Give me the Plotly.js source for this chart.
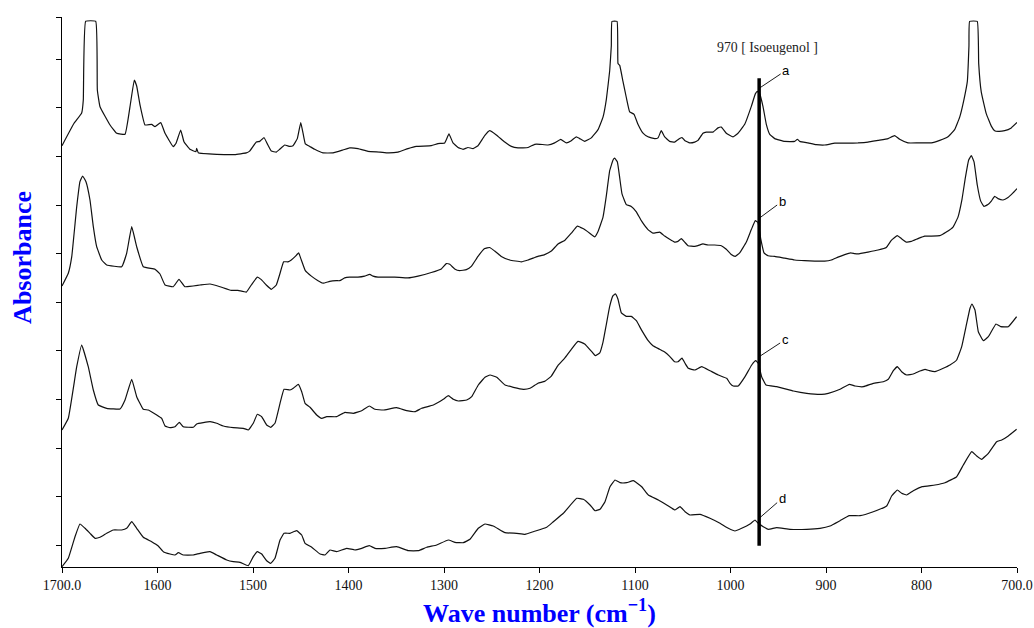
<!DOCTYPE html>
<html>
<head>
<meta charset="utf-8">
<script src="https://cdn.plot.ly/plotly-3.0.1.min.js"></script>
<style>
  html, body { margin: 0; padding: 0; background: #ffffff; }
  #chart { width: 1034px; height: 628px; }
</style>
</head>
<body>
<div id="chart"></div>
<script>
// ---- Data (wave number in cm-1, absorbance in arbitrary stacked units) ----
const wnA = [1700,1687.4,1679.4,1677.7,1675.2,1664.7,1663,1660.2,1649.7,1642.7,1634,1628.8,1624.3,1621.8,1618.3,1613.1,1606.1,1602.6,1596.6,1592.1,1583.5,1580.6,1575.7,1572.3,1566,1559.7,1559,1557.3,1538,1519.2,1507,1503.5,1496.5,1493,1488.5,1485,1480.8,1475.6,1472,1466.8,1461.6,1458.1,1453.6,1450,1447.6,1445.2,1440.6,1435.4,1426.7,1416.2,1405.8,1398.8,1390.1,1379.6,1367,1358.6,1348.2,1337.7,1329,1313.3,1306.3,1299.3,1294.8,1290.6,1285.3,1280.1,1274.9,1269.6,1264.4,1257.4,1252.2,1245.2,1236.4,1229.5,1222.5,1212,1205,1199.5,1191.1,1184.1,1177.8,1171.9,1166.7,1161.5,1157.9,1152.7,1145.8,1138.7,1133.5,1130,1126.5,1124.8,1124.1,1118.8,1117.8,1116,1112.6,1109.1,1105.6,1101,1096.9,1091.6,1086.4,1079.4,1075.9,1072.5,1068.9,1063.7,1058.5,1053.2,1050.8,1048,1042.7,1037.5,1034.1,1028.8,1025.3,1018.3,1013.1,1009.6,1004.4,997.4,992.1,985.1,978.2,974,971.9,969.4,966,962.5,958.9,953.7,943.2,932.8,930,927.5,918.8,910.2,901.4,890.8,876.9,866.5,856,845.5,835,828.1,822.9,814.2,803.7,789.7,780.9,772.3,765.3,760,755.5,752,750.3,749.6,741.6,740.1,737.4,732.2,726.9,723.4,719.9,712.9,706,700];
const absA = [421.3,443.7,454,467,545.7,545.7,477,460.3,442,433.7,432.7,460.3,487,481,462,442,442.7,440.3,444.3,433.7,420.3,423.7,437,425.3,417.7,415.3,418.7,414.3,412.7,412.4,414.1,415.9,424.9,425.6,429.5,423.1,415.9,414.9,417.7,422,420.6,421.3,428.4,444.5,433.8,423.1,420.6,417.7,414.1,414.1,417,419.1,418.4,415.6,414.9,414.1,414.9,418.4,420.6,421.3,423.4,424.1,433.1,424.1,419.5,417.7,419.5,418.4,421.3,431.3,436.3,432,424.9,420.6,419.1,419.5,422.7,422.7,422,424.1,427.7,424.1,426.3,430.2,428.4,425.6,429.1,437.4,449.9,467.7,496.3,521.3,545.6,545.6,503.4,501.6,485.6,469.5,455.2,452.7,442.7,433.8,430.2,428.4,429.1,436.3,430.2,425.6,424.9,428.4,429.5,426.6,424.1,424.9,426.6,433.8,434.9,434.9,439.1,439.9,433.8,430.2,433.8,442.7,460.6,473.1,475.6,473.1,460.6,442.7,432.7,428.4,425.6,425.6,427.7,425.6,424.1,422.4,422,423.8,423.8,424.1,424.9,426.6,428.4,431.3,427.7,424.1,424.1,424.1,426.6,430.2,437.4,449.9,467.7,485.6,521.3,545.6,545.6,503.4,474.9,453.4,440.9,436.3,435.6,436.3,439.1,444.5];

const wnB = [1700,1693.4,1689.8,1684.6,1681.2,1678.4,1674.9,1670.7,1667.2,1663.7,1658.4,1653.2,1637.5,1632.3,1627,1621.8,1614.9,1602.6,1597.4,1592.1,1583.5,1577.5,1571.2,1555.5,1545,1534.6,1522.7,1515.7,1507,1501.8,1495.5,1491.3,1486.1,1480.8,1475.6,1472,1467.9,1463.4,1459.9,1455.7,1452.2,1449.4,1445.2,1438.9,1431.9,1426.7,1419.7,1412.8,1409.2,1404,1398.8,1390.1,1383.1,1377.8,1374.3,1369.1,1351.7,1337.7,1327.2,1313.3,1302.8,1297.6,1294,1288.8,1283.6,1276.6,1271.4,1264.4,1257.4,1252.2,1246.9,1240,1231.2,1219.1,1212,1205,1201.6,1194.6,1187.6,1180.6,1173.6,1166.7,1160.4,1154.5,1147.4,1142.2,1138.7,1133.5,1130,1126.5,1123,1121.3,1118.5,1116,1113.6,1109.1,1103.9,1098.6,1093.4,1086.4,1081.2,1074.2,1068.9,1063.7,1058.5,1055,1051.5,1048,1044.5,1037.5,1034.1,1028.8,1023.6,1016.6,1009.6,1004.4,999.2,995,990.4,983.4,978.2,974,971.2,968.4,964.9,960.7,953.7,943.3,932.8,922.4,911.8,901.4,894.4,887.4,880.4,874.2,870,866.5,856,845.5,836.8,831.6,825.3,821.1,815.9,810.7,803.7,796.7,789.7,780.9,774,767,761.8,757.6,754.1,750.6,747.8,745,741.6,738,734.6,730.4,726.9,723.4,719.9,714.6,709.4,704.2,700];
const absB = [281,293.7,310.3,360.3,385.3,391,385.3,367,340.3,320.3,307,302,300.3,313.7,340.3,320.3,300.3,297.7,293,282,280.3,287.7,280.3,282,283,280.3,276.6,276.6,274.9,282,289.9,287.4,282,277.7,282,292.7,305.2,305.2,307,310.6,314.1,307,296.3,290.9,286.3,283.8,285.6,286.3,286.3,289.1,289.9,289.9,290.9,292.7,290.9,289.9,289.9,289.1,290.9,294.5,298.1,303.4,302.7,298.1,296.3,297.4,300.6,310.6,318.4,319.5,315.9,310.6,307,305.2,307,309.5,310.6,312.4,315.9,323.1,326.6,333.8,340.9,338.4,333.8,330.2,335.6,349.9,371.3,396.3,407,408.8,405.2,389.1,373.1,362.4,360.6,355.2,346.3,337.4,333.8,334.9,330.9,327.7,324.9,325.6,328.4,324.9,321.3,320.6,321.3,323.1,322,322,321.3,317.7,312.4,310.6,314.1,324.9,337.4,346.3,344.5,328.4,314.1,311.3,310.6,308.8,307,306.3,305.9,305.9,307,309.9,312.4,314.1,313.4,313.1,314.9,317,319.5,326.6,331.3,328.4,324.9,325.6,328.4,330.9,330.9,331.3,334.9,339.9,349.9,367.7,389.1,407,411.3,405.2,382,365.9,360.6,362.4,365.9,370.6,368.4,367,369.5,374.1,378.4];

const wnC = [1700,1693.4,1684.6,1679.4,1672.5,1667.2,1662,1653.2,1639.3,1634,1627,1621.8,1614.9,1609.6,1600.8,1595.6,1592.1,1586.9,1581.7,1577.2,1573,1562.5,1559,1545,1538,1531.1,1520.6,1510.1,1504.9,1499.7,1495.5,1490.9,1485.7,1481.5,1477,1471.7,1467.5,1461.3,1457.8,1452.6,1449,1445.5,1440.3,1433.3,1428.1,1422.8,1412.4,1403.7,1395,1386.2,1378.2,1372.3,1363.6,1349.6,1339.1,1330.4,1323.4,1311.2,1300.7,1295.5,1290.3,1285,1276.2,1271,1264.1,1257.1,1251.8,1244.8,1236.1,1227.4,1217,1209.9,1201.6,1194.6,1187.6,1180.6,1173.6,1166.7,1159.7,1152.7,1145.8,1141.6,1136.9,1133.5,1130,1126.5,1123,1120.6,1117.8,1114.3,1109.1,1103.9,1098.6,1093.4,1086.4,1081.2,1074.2,1068.9,1063.7,1058.5,1055,1050.8,1047.6,1044.2,1037.2,1030.2,1021.5,1012.8,1004,1000.5,997.1,991.9,984.8,977.8,973.6,970.9,967.4,962.8,951.7,944.7,934.2,920.2,904.5,897.6,885.3,875.6,869.6,860.9,850.5,840,834.8,829.5,825.3,820.8,815.5,808.6,801.6,796.3,791.8,785.9,777.2,770.2,763.2,757.9,753.4,749.2,747.1,744,740.5,735.3,730,722,717.1,709.1,700.4];
const absC = [137,148.7,200.3,222,200.3,177,162,158.7,158,167,187.7,170.3,157.7,157,152,148.7,141,139.3,140.3,144.7,140.3,139.7,143,145.3,143.7,141,139.3,138.7,137,143.7,152.7,150.3,142,139.7,143.7,163.7,177.7,177,178.7,182.7,175.3,163.7,159.7,152,148.7,150.3,150.3,154.7,153.7,156.3,161,157.7,157,159.3,156.3,155.3,158.7,162,167.7,171.3,167.7,166,167,170.3,182,189.7,192,189.7,182,179.7,177.7,178.7,183.8,185.6,190.9,201.6,208.8,217.7,225.6,223.1,215.9,211.3,214.1,224.9,242.7,260.6,271.3,273.1,267.7,254.1,250.6,250.6,246.3,237.4,226.6,221.3,217.7,214.9,210.6,205.2,205.2,208.8,203.7,198.7,197,200.3,196.3,192,188.7,183.7,181,181,190.3,202,206.3,203.7,190.3,182,180.3,178.7,176,173.7,172.7,173.7,177.7,182.7,181,180.3,183.7,185.3,187.7,196.3,200.3,195.3,192,193,196,197.7,196.3,195.3,198.7,202,207,220.3,240.3,258.7,263,257,235.3,226.3,230.3,243,240.3,240.3,250.3];

const wnD = [1700,1693.4,1686.4,1681.2,1675.9,1670.7,1665.4,1660.2,1653.2,1646.3,1637.5,1632.3,1627,1621.8,1614.9,1606.1,1599.2,1593.9,1586.9,1581.7,1578.2,1573,1562.5,1555.5,1545,1538,1527.5,1520.6,1513.6,1504.9,1499.7,1495.5,1490.9,1485.7,1481.5,1477,1471.7,1467.5,1461.3,1454.3,1449,1445.5,1438.5,1429.8,1424.6,1419.4,1412.4,1401.9,1393.2,1386.2,1378.2,1372.3,1361.8,1349.6,1337.4,1326.9,1318.1,1307.7,1295.5,1288.5,1279.8,1272.8,1264.1,1257.1,1248.4,1236.1,1223.9,1215.2,1206.5,1192.5,1185.5,1175,1161,1154.1,1147.1,1141.9,1136.6,1131.4,1126.2,1120.9,1115.7,1108.7,1101.7,1093,1086,1075.5,1066.8,1058.1,1052.9,1047.6,1042.4,1031.9,1021.5,1011,1002.3,995.3,988.3,979.6,974.3,970.9,965.7,960.4,951.7,937.7,920.2,906.3,895.8,885.3,875.6,864.4,850.5,836.5,831.3,825.3,820.8,815.5,808.6,799.3,785.9,775.4,763.2,756.2,747.4,742.2,737,730,721.3,716,709.1,700.4];
const absD = [0.3,8.7,30.3,43,38.7,33.7,28.7,29.7,33.7,37,37,38.7,45.3,38.7,29.7,25.3,21,15.3,13,12,14.3,12,12,13.7,15.3,12,7,5.3,4.7,1.3,10.3,15.3,13,6.3,3.7,8.7,27,33.7,33.7,36.3,32,23.7,19.7,13,12,17,15.3,18.7,17,18.7,21.3,18.7,18.7,20.3,16.3,16.3,19.7,22,27,24.7,24.3,27.7,38.7,43,41,34.3,33.7,32.7,35.3,39.7,45.3,53.7,68.7,67.7,62,56.3,57.7,65.3,80.3,87,84.3,84.3,86.3,80.3,72,67,62,57,60.3,55.3,52,52.7,48.7,43.7,38.7,36,38.7,43,47,43.7,40.3,37.7,39.3,37.7,37.7,38.7,41,46.3,51.3,51.3,55.3,61,71,77,73.7,72,76.3,80.3,82,84.3,90.3,102,115.3,111,107.7,113.7,125.3,127,131,137.7];

const sampleLabels = ['a', 'b', 'c', 'd'];
const markerWn = 970;                 // Isoeugenol band
const markerSpan = [21.3, 488.7];     // extent of the marker line (absorbance units)
const markerNote = '970 [ Isoeugenol ]';

const xTickVals = [1700, 1600, 1500, 1400, 1300, 1200, 1100, 1000, 900, 800, 700];
const xTickText = ['1700.0', '1600', '1500', '1400', '1300', '1200', '1100', '1000', '900', '800', '700.0'];
const yTickVals = [21.7, 70.3, 118.9, 167.5, 216.1, 264.7, 313.3, 361.9, 410.5, 459.1, 507.7, 550];

// ---- Traces ----
const lineStyle = { color: '#111111', width: 1.2, shape: 'spline', smoothing: 0.3 };
const series = [[wnA, absA], [wnB, absB], [wnC, absC], [wnD, absD]];
const traces = series.map((s, i) => ({
  type: 'scatter', mode: 'lines', x: s[0], y: s[1],
  name: sampleLabels[i], line: lineStyle, hoverinfo: 'x+y'
}));
traces.push({
  type: 'scatter', mode: 'lines',
  x: [markerWn, markerWn], y: markerSpan,
  line: { color: '#000000', width: 3.5 }, hoverinfo: 'skip', name: markerNote
});

// label anchors on each curve near the 970 band
const labelAnchors = [
  { y: 478.7, ax: 27, ay: -18 },
  { y: 348.7, ax: 23, ay: -17 },
  { y: 210.3, ax: 26, ay: -17 },
  { y: 48.7,  ax: 23, ay: -20 }
];
const annotations = sampleLabels.map((t, i) => ({
  x: markerWn, y: labelAnchors[i].y, xref: 'x', yref: 'y',
  text: t, showarrow: true, arrowhead: 0, arrowwidth: 0.9, arrowcolor: '#000',
  ax: labelAnchors[i].ax, ay: labelAnchors[i].ay,
  font: { family: 'Liberation Sans, Arial, sans-serif', size: 13, color: '#000' }
}));
annotations.push({
  x: 961, y: 520, xref: 'x', yref: 'y', showarrow: false,
  text: markerNote,
  font: { family: 'Liberation Serif, Times New Roman, serif', size: 13.8, color: '#222' }
});
annotations.push({
  xref: 'paper', yref: 'paper', x: -0.042, y: (567 - 257) / 550, showarrow: false,
  xanchor: 'center', yanchor: 'middle', text: 'Absorbance', textangle: -90,
  font: { family: 'Liberation Serif, Times New Roman, serif', size: 26, color: '#0000ff', weight: 'bold' }
});

const layout = {
  width: 1034, height: 628,
  margin: { l: 62, r: 17, t: 17, b: 61, pad: 0 },
  paper_bgcolor: '#ffffff', plot_bgcolor: '#ffffff',
  showlegend: false,
  xaxis: {
    range: [1700, 700], showline: true, linecolor: '#000', linewidth: 1,
    showgrid: false, zeroline: false,
    ticks: 'outside', ticklen: 5, tickcolor: '#000', tickwidth: 1,
    tickmode: 'array', tickvals: xTickVals, ticktext: xTickText,
    tickfont: { family: 'Liberation Serif, Times New Roman, serif', size: 14, color: '#111' },
    title: {
      text: 'Wave number (cm<sup>−1</sup>)', standoff: 16,
      font: { family: 'Liberation Serif, Times New Roman, serif', size: 26, color: '#0000ff', weight: 'bold' }
    }
  },
  yaxis: {
    range: [0, 550], showline: true, linecolor: '#000', linewidth: 1,
    showgrid: false, zeroline: false,
    ticks: 'outside', ticklen: 5, tickcolor: '#000', tickwidth: 1,
    tickmode: 'array', tickvals: yTickVals, showticklabels: false
  },
  annotations: annotations
};

Plotly.newPlot('chart', traces, layout, { displayModeBar: false, staticPlot: true });
</script>
</body>
</html>
